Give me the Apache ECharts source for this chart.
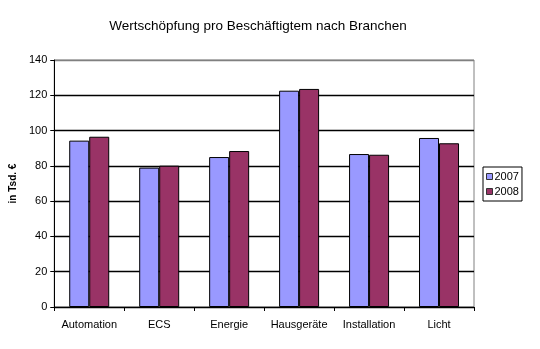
<!DOCTYPE html>
<html><head><meta charset="utf-8">
<script src="https://cdn.jsdelivr.net/npm/echarts@6/dist/echarts.min.js"></script>
<style>html,body{margin:0;padding:0;background:#fff}#c{width:540px;height:349px}</style>
</head><body><div id="c"></div>
<script>
const categories = ['Automation','ECS','Energie','Hausgeräte','Installation','Licht'];
const values2007 = [94.3, 79.0, 85.0, 122.6, 86.7, 95.8];
const values2008 = [96.5, 80.1, 88.4, 123.6, 86.3, 92.8];
const seriesNames = ['2007','2008'];
const titleText = 'Wertschöpfung pro Beschäftigtem nach Branchen';
const yAxisName = 'in Tsd. €';

const font = 'Liberation Sans, Arial, sans-serif';
const chart = echarts.init(document.getElementById('c'), null, {renderer:'canvas'});
chart.setOption({
  backgroundColor:'#fff',
  animation:false,
  title:{text:titleText,left:253,textAlign:'center',top:14,
    textStyle:{fontFamily:font,fontSize:13.5,fontWeight:'normal',color:'#000'}},
  grid:{left:53,right:66,top:60,bottom:42,show:true,borderColor:'#808080',borderWidth:1},
  legend:{orient:'vertical',left:483,top:167,itemWidth:6,itemHeight:6,itemGap:4,
    padding:[4,3,4,3],borderColor:'#000',borderWidth:1,icon:'rect',
    textStyle:{fontFamily:font,fontSize:11,color:'#000',padding:[0,0,0,-3]},
    itemStyle:{borderColor:'#333',borderWidth:1},
    data:seriesNames},
  xAxis:{type:'category',data:categories,
    axisLine:{lineStyle:{color:'#000',width:1}},
    axisTick:{show:true,length:4,lineStyle:{color:'#000'}},
    axisLabel:{fontFamily:font,fontSize:11,color:'#000',margin:12,interval:0}},
  yAxis:{type:'value',min:0,max:140,interval:20,
    name:yAxisName,nameLocation:'middle',nameGap:33,
    nameTextStyle:{fontFamily:font,fontSize:10,fontWeight:'bold',color:'#000'},
    axisLine:{show:true,lineStyle:{color:'#000',width:1}},
    axisTick:{show:true,length:4,lineStyle:{color:'#000'}},
    axisLabel:{fontFamily:font,fontSize:11,color:'#000',margin:7},
    splitLine:{show:true,lineStyle:{color:['#000','#000','#000','#000','#000','#000','#000','#808080'],width:1.3}}},
  series:[
    {name:seriesNames[0],type:'bar',data:values2007,barWidth:20,barGap:'0%',
      itemStyle:{color:'#9999FF',borderColor:'#000',borderWidth:1}},
    {name:seriesNames[1],type:'bar',data:values2008,barWidth:20,barGap:'0%',
      itemStyle:{color:'#993366',borderColor:'#000',borderWidth:1}}
  ]
});
</script></body></html>
